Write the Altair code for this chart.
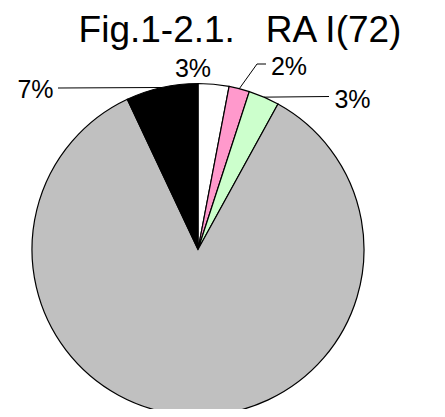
import math
import altair as alt
import pandas as pd

# ---- data ----
categories = ["A", "B", "C", "D", "E"]
values = [3, 2, 3, 85, 7]
labels = ["3%", "2%", "3%", "", "7%"]
colors = ["#ffffff", "#ff99cc", "#ccffcc", "#c0c0c0", "#000000"]
title_text = "Fig.1-2.1.\u00a0\u00a0\u00a0RA I(72)"

# ---- layout (pixels, relative to plot origin) ----
W, H = 429, 401
CX, CY, R = 190, 241.5, 166
title_pos = (232, 34)
label_pos = {"A": (185, 68.5), "B": (281, 67), "C": (344.5, 99.5), "E": (27.5, 90)}
leader_pts = {"B": [(258, 56), (249, 56)], "C": [(321, 88.5)], "E": [(50, 80)]}

df = pd.DataFrame({"cat": categories, "value": values,
                   "order": list(range(len(categories)))})

pie = alt.Chart(df).mark_arc(stroke="black", strokeWidth=1.2).encode(
    theta=alt.Theta("value:Q", stack=True),
    order=alt.Order("order:Q"),
    color=alt.Color("cat:N", scale=alt.Scale(domain=categories, range=colors), legend=None),
    radius=alt.value(R),
    x=alt.value(CX),
    y=alt.value(CY),
)

layers = [pie]
total = sum(values)
cum = 0
for c, v, lab in zip(categories, values, labels):
    mid = (cum + v / 2) / total * 2 * math.pi
    cum += v
    if lab and c in label_pos:
        lx, ly = label_pos[c]
        layers.append(
            alt.Chart(df).transform_filter(alt.datum.cat == c).mark_text(
                font="Liberation Sans", fontSize=25, color="black",
                align="center", baseline="alphabetic").encode(
                x=alt.value(lx), y=alt.value(ly), text=alt.value(lab)))
    if c in leader_pts:
        ax = CX + R * math.sin(mid)
        ay = CY - R * math.cos(mid)
        pts = leader_pts[c] + [(ax, ay)]
        for (x1, y1), (x2, y2) in zip(pts[:-1], pts[1:]):
            layers.append(
                alt.Chart(df).transform_filter(alt.datum.cat == c).mark_rule(
                    color="black", strokeWidth=1).encode(
                    x=alt.value(x1), x2=alt.value(x2),
                    y=alt.value(y1), y2=alt.value(y2)))

layers.append(
    alt.Chart(df).transform_filter(alt.datum.cat == "A").mark_text(
        font="Liberation Sans", fontSize=37, color="black", align="center",
        baseline="alphabetic").encode(
        x=alt.value(title_pos[0]), y=alt.value(title_pos[1]), text=alt.value(title_text)))

chart = alt.layer(*layers).properties(
    width=W, height=H, autosize=alt.AutoSizeParams(type="none"), padding=0
).configure_view(strokeWidth=0)

chart.save("out.html", embed_options={"renderer": "svg", "actions": False})
